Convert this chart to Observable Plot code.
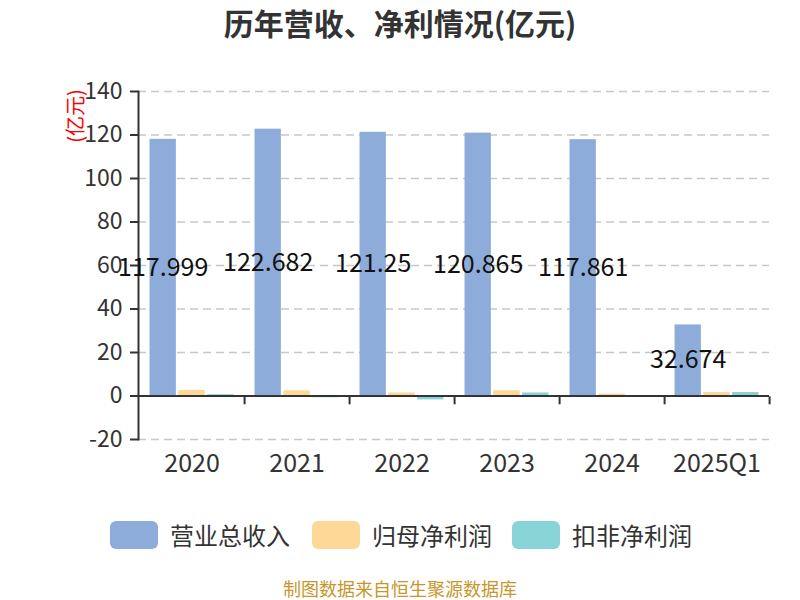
<!DOCTYPE html>
<html><head><meta charset="utf-8">
<script src="https://cdn.jsdelivr.net/npm/d3@7"></script>
<script src="https://cdn.jsdelivr.net/npm/@observablehq/plot@0.6"></script>
<style>
body{margin:0;background:#fff;}
#wrap{position:relative;width:800px;height:600px;font-family:"Noto Sans CJK SC","Noto Sans",sans-serif;overflow:hidden;}
#chart{position:absolute;left:0;top:0;}
#title{position:absolute;left:0;top:0;width:800px;height:44px;line-height:44px;text-align:center;font-size:30px;font-weight:bold;color:#333;}
.leg{position:absolute;top:521px;height:28px;display:flex;align-items:center;}
.sw{width:48px;height:28px;border-radius:6px;margin-right:12px;}
.lt{font-size:24px;color:#333;line-height:28px;}
#caption{position:absolute;left:0;top:578px;width:800px;height:20px;line-height:20px;text-align:center;font-size:18px;color:#c8962d;}
#unit{position:absolute;left:35px;top:104px;width:80px;height:24px;line-height:24px;text-align:center;font-size:20px;color:#ff0000;transform:rotate(-90deg);}
</style></head>
<body>
<div id="wrap">
  <div id="chart"></div>
  <div id="title">历年营收、净利情况(亿元)</div>
  <div id="unit"></div>
  <div id="legend"></div>
  <div id="caption">制图数据来自恒生聚源数据库</div>
</div>
<script>
const years = ["2020","2021","2022","2023","2024","2025Q1"];
const revenue = [117.999, 122.682, 121.25, 120.865, 117.861, 32.674];
const netProfit = [2.6, 2.4, 1.4, 2.4, 0.9, 1.6];
const deductedProfit = [0.6, -0.8, -1.8, 1.4, 0.1, 1.6];
const seriesNames = ["营业总收入", "归母净利润", "扣非净利润"];
const seriesColors = ["#8eacda", "#fed896", "#88d4d7"];
const yTicks = [-20, 0, 20, 40, 60, 80, 100, 120, 140];
const unitLabel = "(亿元)";

document.getElementById("unit").textContent = unitLabel;

const data = years.map((y, i) => ({year: y, rev: revenue[i], np: netProfit[i], dnp: deductedProfit[i]}));

const W = 800, H = 600, mL = 138, mR = 31, mT = 91, mB = 161;
const bw = (W - mL - mR) / years.length;
const barW = 26.5, gap = 2.3;
const groupW = 3 * barW + 2 * gap;
const off0 = (bw - groupW) / 2;
function insets(k) {
  const l = off0 + k * (barW + gap);
  return {insetLeft: l, insetRight: bw - l - barW};
}
const labelDx = off0 + barW / 2 - bw / 2;

const plot = Plot.plot({
  width: W, height: H,
  marginTop: mT, marginBottom: mB, marginLeft: mL, marginRight: mR,
  x: {domain: years, padding: 0, label: null},
  y: {domain: [-20, 140], label: null},
  style: {fontFamily: '"Noto Sans CJK SC","Noto Sans",sans-serif', fontSize: "21px", color: "#333", background: "transparent"},
  marks: [
    Plot.gridY(yTicks, {stroke: "#c8c8c8", strokeOpacity: 1, strokeWidth: 1.5, strokeDasharray: "8,5"}),
    Plot.barY(data, {x: "year", y: "rev", fill: seriesColors[0], ...insets(0)}),
    Plot.barY(data, {x: "year", y: "np", fill: seriesColors[1], ...insets(1)}),
    Plot.barY(data, {x: "year", y: "dnp", fill: seriesColors[2], ...insets(2)}),
    Plot.ruleY([0], {stroke: "#333", strokeWidth: 2}),
    Plot.frame({anchor: "left", stroke: "#333", strokeWidth: 2}),
    Plot.axisY(yTicks, {tickSize: 8, tickPadding: 8, strokeWidth: 2, stroke: "#333", fill: "#333", fontSize: 23, tickFormat: d => String(d), label: null}),
    Plot.axisX({tickSize: 0, tickPadding: 15, fill: "#333", fontSize: 25, label: null}),
    Plot.axisX({tickSize: 8, fill: "none", stroke: "#333", strokeWidth: 2, dx: bw / 2, dy: -(H - mB - 396.3), label: null}),
    Plot.text(data, {x: "year", y: d => d.rev / 2, text: d => String(d.rev), dx: labelDx, fontSize: 25, fill: "#111"})
  ]
});
document.getElementById("chart").appendChild(plot);

const legendX = [110, 312, 512];
const legend = document.getElementById("legend");
seriesNames.forEach((name, i) => {
  const item = document.createElement("div");
  item.className = "leg";
  item.style.left = legendX[i] + "px";
  item.innerHTML = `<div class="sw" style="background:${seriesColors[i]}"></div><span class="lt">${name}</span>`;
  legend.appendChild(item);
});
</script>
</body></html>
